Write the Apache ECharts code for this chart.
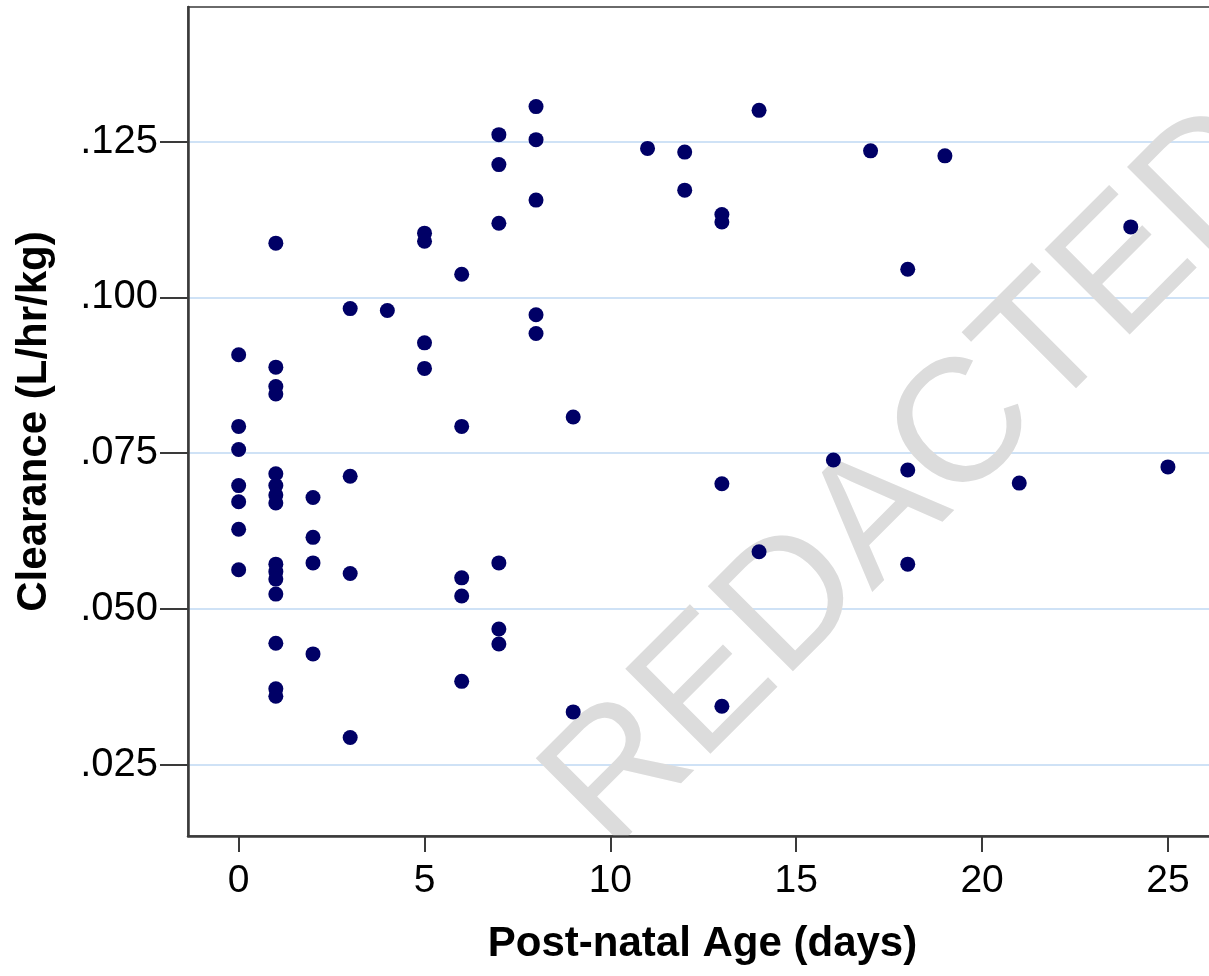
<!DOCTYPE html>
<html>
<head>
<meta charset="utf-8">
<script src="https://cdn.jsdelivr.net/npm/echarts@6/dist/echarts.min.js"></script>
<style>
html,body{margin:0;padding:0;background:#fff;}
#chart{width:1209px;height:976px;}
</style>
</head>
<body>
<div id="chart"></div>
<script>
// Post-natal age (days) of each observation
const ageDays = [
  0,0,0,0,0,0,0,
  1,1,1,1,1,1,1,1,1,1,1,1,1,1,1,
  2,2,2,2,
  3,3,3,3,
  4,
  5,5,5,5,
  6,6,6,6,6,
  7,7,7,7,7,7,
  8,8,8,8,8,
  9,9,
  11,
  12,12,
  13,13,13,13,
  14,14,
  16,
  17,
  18,18,18,
  19,
  21,
  24,
  25
];
// Clearance (L/hr/kg) of each observation
const clearance = [
  0.0908,0.0793,0.0756,0.0698,0.0672,0.0628,0.0563,
  0.1087,0.0888,0.0857,0.0845,0.0717,0.0698,0.0683,0.0670,0.0572,0.0560,0.0548,0.0524,0.0445,0.0372,0.0360,
  0.0679,0.0615,0.0574,0.0428,
  0.0982,0.0713,0.0557,0.0294,
  0.0979,
  0.1103,0.1090,0.0927,0.0886,
  0.1037,0.0793,0.0550,0.0521,0.0384,
  0.1261,0.1213,0.1119,0.0574,0.0468,0.0444,
  0.1306,0.1253,0.1156,0.0972,0.0942,
  0.0808,0.0335,
  0.1239,
  0.1233,0.1172,
  0.1133,0.1121,0.0701,0.0344,
  0.1300,0.0592,
  0.0739,
  0.1235,
  0.1045,0.0723,0.0572,
  0.1227,
  0.0702,
  0.1113,
  0.0728
];
const xTicks = [0, 5, 10, 15, 20, 25];
const yTicks = [0.025, 0.050, 0.075, 0.100, 0.125];
const xTitle = 'Post-natal Age (days)';
const yTitle = 'Clearance (L/hr/kg)';
const watermark = 'REDACTED';

const points = ageDays.map((d, i) => [d, clearance[i]]);
const FONT = "'Liberation Sans', Arial, sans-serif";

const chart = echarts.init(document.getElementById('chart'), null, {renderer: 'canvas'});
chart.setOption({
  animation: false,
  backgroundColor: '#ffffff',
  grid: {
    left: 188, top: 7, width: 1029, height: 829,
    outerBoundsMode: 'none',
    containLabel: false,
    show: true, borderColor: '#6a6a6a', borderWidth: 2, backgroundColor: 'transparent'
  },
  xAxis: {
    type: 'value',
    min: -1.363, max: 26.32,
    z: 4,
    name: xTitle,
    nameLocation: 'middle',
    nameGap: 87,
    nameTextStyle: {fontFamily: FONT, fontSize: 42, fontWeight: 'bold', color: '#000'},
    axisLine: {show: true, onZero: false, lineStyle: {color: '#3a3a3a', width: 2.5}},
    axisTick: {show: true, customValues: xTicks, length: 16, lineStyle: {color: '#3a3a3a', width: 2}},
    axisLabel: {customValues: xTicks, fontFamily: FONT, fontSize: 39, color: '#000', margin: 26},
    splitLine: {show: false}
  },
  yAxis: {
    type: 'value',
    min: 0.01359, max: 0.14658,
    name: yTitle,
    nameLocation: 'middle',
    nameGap: 133,
    nameRotate: 90,
    nameTextStyle: {fontFamily: FONT, fontSize: 42, fontWeight: 'bold', color: '#000'},
    axisLine: {show: true, onZero: false, lineStyle: {color: '#3a3a3a', width: 2.5}},
    axisTick: {show: true, customValues: yTicks, length: 28, lineStyle: {color: '#3a3a3a', width: 2}},
    axisLabel: {
      customValues: yTicks, fontFamily: FONT, fontSize: 40, color: '#000', margin: 30,
      padding: [14, 0, 0, 0],
      formatter: v => v.toFixed(3).replace(/^0/, '')
    },
    splitLine: {show: true, lineStyle: {color: '#cfe2f6', width: 2}}
  },
  graphic: [{
    type: 'text',
    x: 917, y: 479,
    rotation: 45 * Math.PI / 180,
    z: 3,
    silent: true,
    style: {
      text: watermark,
      fontFamily: FONT,
      fontSize: 175,
      fill: '#dcdcdc',
      align: 'center',
      verticalAlign: 'middle'
    }
  }, {
    type: 'rect',
    z: 3.5,
    silent: true,
    shape: {x: 188, y: 837.5, width: 1021, height: 139},
    style: {fill: '#ffffff'}
  }],
  series: [{
    type: 'scatter',
    data: points,
    symbol: 'circle',
    symbolSize: 15,
    z: 5,
    itemStyle: {color: '#000066', opacity: 1}
  }]
});
</script>
</body>
</html>
